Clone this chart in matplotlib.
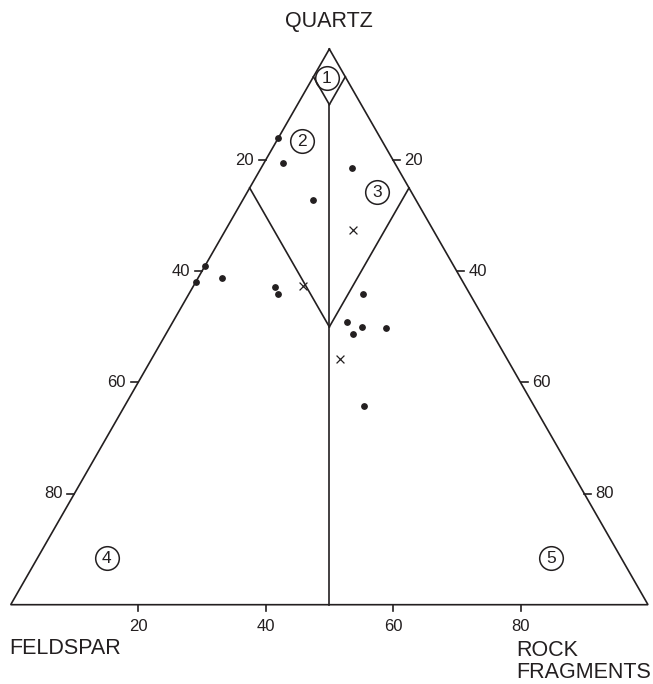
import matplotlib
matplotlib.use("Agg")
import matplotlib.pyplot as plt
import numpy as np

plt.rcParams['font.family'] = ['Liberation Sans', 'DejaVu Sans']

# Sample compositions (percent quartz, feldspar, rock fragments)
dot_q = [84.0, 79.4, 72.8, 78.5, 61.0, 58.1, 58.8, 57.2, 55.9, 55.9, 50.8, 49.9, 48.8, 49.8, 35.8]
dot_f = [16.0, 17.5, 16.1, 7.2, 39.0, 41.9, 37.4, 30.0, 30.1, 16.8, 21.9, 19.9, 21.9, 16.2, 26.6]
dot_r = [0.0, 3.1, 11.1, 14.3, 0.0, 0.0, 3.8, 12.8, 14.0, 27.3, 27.3, 30.2, 29.3, 34.0, 37.6]

# Mean compositions
mean_q = [57.4, 67.4, 44.2]
mean_f = [25.5, 12.6, 26.2]
mean_r = [17.1, 20.0, 29.6]

scale_ticks = [20, 40, 60, 80]
scale_labels = ['20', '40', '60', '80']

field_ids = ['1', '2', '3', '4', '5']

INK = '#231f20'


def tern(q, f, r):
    """Quartz at the apex, feldspar bottom-left, rock fragments bottom-right."""
    q = np.asarray(q, float)
    r = np.asarray(r, float)
    return r + q / 2.0, q


fig = plt.figure(figsize=(6.53, 6.84), dpi=100)
ax = fig.add_axes([10.7 / 653, (684 - 604.7) / 684, 637.3 / 653, 555.7 / 684])
ax.set_xlim(0, 100)
ax.set_ylim(0, 100)
ax.axis('off')

lw = 1.2

# outer triangle
tx, ty = tern([100, 0, 0, 100], [0, 100, 0, 0], [0, 0, 100, 0])
ax.plot(tx, ty, color=INK, lw=lw, solid_joinstyle='miter', clip_on=False)

# field boundaries
segments = [
    ((95, 5, 0), (90, 5, 5)),
    ((95, 0, 5), (90, 5, 5)),
    ((90, 5, 5), (0, 50, 50)),
    ((75, 25, 0), (50, 25, 25)),
    ((75, 0, 25), (50, 25, 25)),
]
for a, b in segments:
    sx, sy = tern([a[0], b[0]], [a[1], b[1]], [a[2], b[2]])
    ax.plot(sx, sy, color=INK, lw=lw, clip_on=False)

# scale ticks
tick_len = 1.1
fs_tick = 12
for t, lab in zip(scale_ticks, scale_labels):
    q = 100 - t
    # left edge (feldspar-quartz side)
    ex, ey = tern(q, 100 - q, 0)
    ax.plot([ex - tick_len, ex], [ey, ey], color=INK, lw=lw, clip_on=False)
    ax.text(ex - 1.9, ey, lab, ha='right', va='center', fontsize=fs_tick, color=INK)
    # right edge (rock fragments-quartz side)
    ex, ey = tern(q, 0, 100 - q)
    ax.plot([ex, ex + tick_len], [ey, ey], color=INK, lw=lw, clip_on=False)
    ax.text(ex + 1.8, ey, lab, ha='left', va='center', fontsize=fs_tick, color=INK)
    # base
    bx, by = tern(0, 100 - t, t)
    ax.plot([bx, bx], [0, -tick_len], color=INK, lw=lw, clip_on=False)
    ax.text(bx, -3.9, lab, ha='center', va='center', fontsize=fs_tick, color=INK)

# data points
px, py = tern(dot_q, dot_f, dot_r)
ax.scatter(px, py, s=15, color=INK, zorder=5, clip_on=False)
mx, my = tern(mean_q, mean_f, mean_r)
ax.scatter(mx, my, s=32, marker='x', color=INK, linewidths=0.9, zorder=5, clip_on=False)

# field numbers
field_pos = [(49.6, 94.8), (45.7, 83.5), (57.5, 74.3), (15.1, 8.35), (84.8, 8.35)]
for (fx, fy), lab in zip(field_pos, field_ids):
    ax.plot(fx, fy, marker='o', ms=17, mfc='none', mec=INK, mew=1.1, clip_on=False)
    ax.text(fx, fy - 0.1, lab, ha='center', va='center', fontsize=12.5, color=INK)

# corner labels
fs_lab = 15.5
fig.text(329 / 653, 1 - 22 / 684, 'QUARTZ', ha='center', va='center', fontsize=fs_lab, color=INK)
fig.text(9 / 653, 1 - 649 / 684, 'FELDSPAR', ha='left', va='center', fontsize=fs_lab, color=INK)
fig.text(516 / 653, 1 - 650.5 / 684, 'ROCK', ha='left', va='center', fontsize=fs_lab, color=INK)
fig.text(516 / 653, 1 - 673 / 684, 'FRAGMENTS', ha='left', va='center', fontsize=fs_lab, color=INK)

fig.savefig('out.png', dpi=100, facecolor='white')
